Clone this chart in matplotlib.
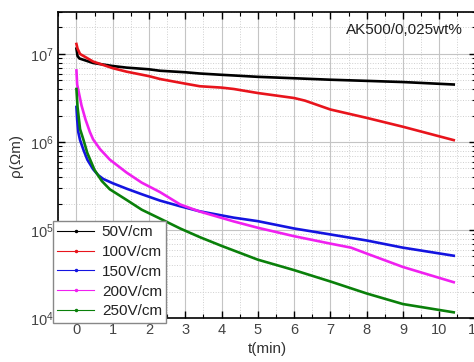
import matplotlib
matplotlib.use('Agg')
import matplotlib.pyplot as plt
from matplotlib.lines import Line2D
from matplotlib.ticker import MultipleLocator, LogLocator, NullFormatter

plt.rcParams['font.family'] = ['Liberation Sans', 'DejaVu Sans']

# data (t in min, rho in Ohm*m)
t_50 = [0, 0.03, 0.08, 0.46, 1.0, 1.38, 2.0, 2.3, 3.0, 3.4, 4.0, 4.34, 5.0, 6.0, 7.0, 8.0, 9.0, 10.4]
rho_50 = [1.15e7, 9.5e6, 8.9e6, 7.9e6, 7.3e6, 7.0e6, 6.7e6, 6.45e6, 6.2e6, 6.0e6, 5.8e6, 5.7e6,
          5.5e6, 5.3e6, 5.1e6, 4.95e6, 4.8e6, 4.5e6]

t_100 = [0, 0.03, 0.1, 0.46, 1.0, 1.38, 2.0, 2.3, 3.0, 3.4, 4.0, 4.34, 5.0, 6.0, 6.3, 7.0, 8.0, 9.0, 10.4]
rho_100 = [1.3e7, 1.15e7, 1.0e7, 8.2e6, 6.9e6, 6.3e6, 5.6e6, 5.2e6, 4.6e6, 4.3e6, 4.15e6, 4.0e6,
           3.6e6, 3.16e6, 2.95e6, 2.34e6, 1.88e6, 1.49e6, 1.05e6]

t_150 = [0, 0.02, 0.05, 0.1, 0.2, 0.3, 0.46, 0.6, 0.74, 1.0, 1.38, 1.8, 2.3, 2.86, 3.4, 4.34, 5.0,
         6.0, 7.0, 8.0, 9.0, 10.4]
rho_150 = [2.5e6, 1.8e6, 1.3e6, 1.05e6, 8.0e5, 6.3e5, 4.9e5, 4.2e5, 3.8e5, 3.4e5, 2.95e5, 2.55e5,
           2.16e5, 1.86e5, 1.63e5, 1.38e5, 1.26e5, 1.04e5, 8.9e4, 7.6e4, 6.3e4, 5.1e4]

t_200 = [0, 0.02, 0.14, 0.25, 0.37, 0.46, 0.65, 0.92, 1.38, 1.8, 2.3, 2.86, 3.4, 4.34, 5.0, 6.0,
         7.0, 7.57, 8.0, 9.0, 10.4]
rho_200 = [6.5e6, 4.5e6, 2.6e6, 1.8e6, 1.3e6, 1.07e6, 8.3e5, 6.3e5, 4.5e5, 3.45e5, 2.7e5, 1.95e5,
           1.62e5, 1.25e5, 1.06e5, 8.5e4, 7.0e4, 6.3e4, 5.4e4, 3.8e4, 2.55e4]

t_250 = [0, 0.03, 0.1, 0.19, 0.3, 0.5, 0.7, 0.92, 1.38, 1.8, 2.3, 2.86, 3.4, 4.0, 5.0, 6.0, 7.0,
         8.0, 9.0, 10.4]
rho_250 = [4.0e6, 2.5e6, 1.4e6, 1.07e6, 7.5e5, 4.8e5, 3.6e5, 2.9e5, 2.2e5, 1.7e5, 1.35e5, 1.04e5,
           8.3e4, 6.6e4, 4.6e4, 3.5e4, 2.6e4, 1.9e4, 1.44e4, 1.16e4]

labels = ['50V/cm', '100V/cm', '150V/cm', '200V/cm', '250V/cm']
colors = ['#000000', '#e8141c', '#1414e0', '#f020f0', '#0a800a']

series = [(t_50, rho_50), (t_100, rho_100), (t_150, rho_150), (t_200, rho_200), (t_250, rho_250)]

fig = plt.figure(figsize=(4.74, 3.62), dpi=100)
ax = fig.add_axes([58.3 / 474, 44 / 362, 417.2 / 474, 306 / 362])

for (t, rho), c in zip(series, colors):
    ax.plot(t, rho, color=c, lw=1.9, zorder=3)

ax.set_yscale('log')
ax.set_xlim(-0.5, 11)
ax.set_ylim(1e4, 3e7)

ax.xaxis.set_major_locator(MultipleLocator(1))
ax.xaxis.set_minor_locator(MultipleLocator(0.5))
ax.yaxis.set_minor_locator(LogLocator(base=10, subs=range(2, 10)))
ax.yaxis.set_minor_formatter(NullFormatter())

ax.grid(which='major', color='#c4c4c4', lw=0.8, ls='-')
ax.grid(which='minor', color='#cfcfcf', lw=0.7, ls=':')
ax.set_axisbelow(True)

ax.tick_params(which='both', direction='in', top=True, right=True, colors='#000000',
               labelcolor='#444444', labelsize=10.5)
ax.tick_params(which='major', length=5, width=1)
ax.tick_params(which='minor', length=3, width=0.8)
for s in ax.spines.values():
    s.set_linewidth(1.2)

ax.set_xlabel('t(min)', fontsize=11, color='#333333', labelpad=4)
ax.set_ylabel('ρ(Ωm)', fontsize=11, color='#333333')
ax.yaxis.set_label_coords(-0.085, 0.53)

ax.text(0.97, 0.94, 'AK500/0,025wt%', transform=ax.transAxes, ha='right', va='center',
        fontsize=11, color='#222222')

# legend uses thin lines with a dot
handles = [Line2D([], [], color=c, lw=0.8, marker='.', ms=3) for c in colors]
leg = ax.legend(handles, labels, loc='lower left', bbox_to_anchor=(-0.013, -0.016),
                borderaxespad=0, fontsize=11, handlelength=2.4, handletextpad=0.5,
                labelspacing=0.38, fancybox=False, framealpha=1, edgecolor='#888888',
                borderpad=0.3)
leg.get_frame().set_linewidth(1.0)
for txt in leg.get_texts():
    txt.set_color('#222222')

fig.savefig('out.png', dpi=100)
